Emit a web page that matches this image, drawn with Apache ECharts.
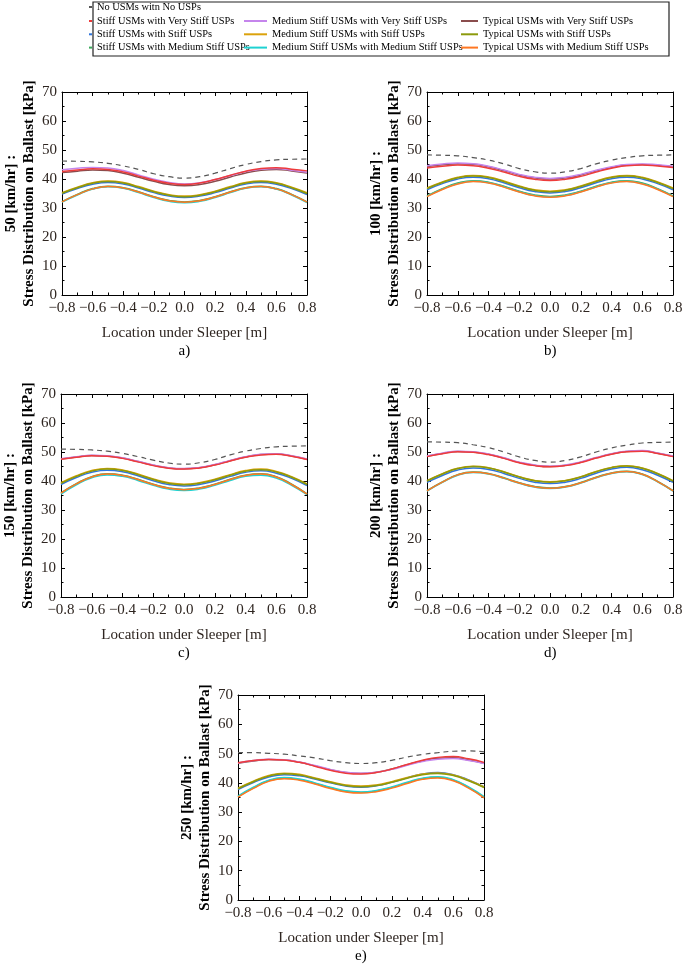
<!DOCTYPE html>
<html>
<head>
<meta charset="utf-8">
<script src="https://cdn.jsdelivr.net/npm/echarts/dist/echarts.min.js"></script>
<style>
html,body{margin:0;padding:0;background:#fff;}
#chart{width:685px;height:966px;}
</style>
</head>
<body>
<div id="chart"></div>
<script>
// Location under sleeper [m]
const X = [-0.8,-0.7,-0.6,-0.5,-0.4,-0.3,-0.2,-0.1,0.0,0.1,0.2,0.3,0.4,0.5,0.6,0.7,0.8];

const SERIES_NAMES = [
  'No USMs witn No USPs',
  'Stiff USMs with Very Stiff USPs',
  'Stiff USMs with Stiff USPs',
  'Stiff USMs with Medium Stiff USPs',
  'Medium Stiff USMs with Very Stiff USPs',
  'Medium Stiff USMs with Stiff USPs',
  'Medium Stiff USMs with Medium Stiff USPs',
  'Typical USMs with Very Stiff USPs',
  'Typical USMs with Stiff USPs',
  'Typical USMs with Medium Stiff USPs'
];
const SPEEDS = ['50','100','150','200','250'];
const PANELS = ['a)','b)','c)','d)','e)'];

// 50 km/hr
const v50_none    = [46.2,46.1,45.9,45.4,44.5,43.3,41.8,40.8,40.3,40.8,42.0,43.6,45.0,46.0,46.6,46.8,46.9];
const v50_stiffVS = [42.6,43.1,43.5,43.3,42.4,41.0,39.6,38.5,38.1,38.6,39.8,41.3,42.7,43.6,43.9,43.4,42.8];
const v50_stiffS  = [34.8,36.7,38.2,38.8,38.3,36.9,35.3,34.1,33.6,34.1,35.3,36.9,38.3,38.8,38.2,36.7,34.6];
const v50_stiffMS = [32.2,34.7,36.7,37.5,37.0,35.6,33.9,32.6,32.1,32.6,33.9,35.6,37.0,37.5,36.7,34.7,32.1];
const v50_medVS   = [43.2,43.7,44.0,43.8,42.9,41.4,39.9,38.8,38.3,38.7,39.8,41.2,42.6,43.4,43.6,43.0,42.3];
const v50_medS    = [35.3,37.2,38.7,39.3,38.8,37.4,35.8,34.6,34.1,34.6,35.8,37.4,38.8,39.3,38.7,37.2,35.3];
const v50_medMS   = [32.0,34.5,36.5,37.3,36.8,35.3,33.6,32.3,31.8,32.3,33.6,35.3,36.8,37.3,36.5,34.5,31.9];
const v50_typVS   = [42.2,42.7,43.1,42.9,42.0,40.6,39.2,38.1,37.7,38.1,39.2,40.7,42.1,43.0,43.3,42.8,42.1];
const v50_typS    = [35.1,37.0,38.5,39.1,38.6,37.2,35.6,34.4,33.9,34.4,35.6,37.2,38.6,39.1,38.5,37.0,35.0];
const v50_typMS   = [32.1,34.6,36.6,37.4,36.9,35.5,33.8,32.5,32.0,32.5,33.8,35.5,36.9,37.4,36.6,34.6,32.0];

// 100 km/hr
const v100_none    = [48.3,48.2,48.0,47.4,46.5,45.2,43.6,42.5,42.0,42.5,43.6,45.2,46.5,47.4,48.0,48.2,48.3];
const v100_stiffVS = [43.8,44.4,44.8,44.6,43.7,42.4,40.9,39.9,39.5,39.9,40.9,42.4,43.7,44.6,44.8,44.5,44.0];
const v100_stiffS  = [36.3,38.4,40.0,40.6,40.1,38.7,37.0,35.7,35.2,35.7,37.0,38.7,40.1,40.6,40.0,38.4,36.3];
const v100_stiffMS = [34.2,36.7,38.6,39.4,38.9,37.5,35.8,34.5,34.0,34.5,35.8,37.5,38.9,39.4,38.6,36.7,34.2];
const v100_medVS   = [44.6,45.2,45.5,45.3,44.4,43.1,41.6,40.6,40.2,40.6,41.6,43.0,44.2,45.0,45.2,44.9,44.4];
const v100_medS    = [36.9,39.0,40.6,41.2,40.7,39.3,37.6,36.3,35.8,36.3,37.6,39.3,40.7,41.2,40.6,39.0,36.9];
const v100_medMS   = [34.0,36.5,38.4,39.2,38.7,37.3,35.6,34.3,33.8,34.3,35.6,37.3,38.7,39.2,38.4,36.5,34.0];
const v100_typVS   = [44.3,44.9,45.3,45.1,44.2,42.9,41.4,40.4,40.0,40.4,41.4,42.8,44.0,44.8,45.0,44.7,44.2];
const v100_typS    = [36.7,38.8,40.4,41.0,40.5,39.1,37.4,36.1,35.6,36.1,37.4,39.1,40.5,41.0,40.4,38.8,36.7];
const v100_typMS   = [33.9,36.4,38.3,39.1,38.6,37.2,35.5,34.2,33.7,34.2,35.5,37.2,38.6,39.1,38.3,36.4,33.9];

// 150 km/hr
const v150_none    = [51.0,50.9,50.7,50.3,49.5,48.4,47.2,46.2,45.8,46.3,47.4,49.0,50.3,51.2,51.8,52.0,52.1];
const v150_stiffVS = [47.5,48.2,48.7,48.5,47.8,46.6,45.3,44.4,44.1,44.5,45.5,46.9,48.2,49.0,49.2,48.5,47.4];
const v150_stiffS  = [38.8,41.2,43.0,43.7,43.2,41.8,40.1,38.8,38.3,38.8,40.0,41.6,43.0,43.5,42.7,40.9,38.4];
const v150_stiffMS = [35.9,39.1,41.5,42.5,42.0,40.6,38.9,37.6,37.1,37.6,38.9,40.6,42.0,42.5,41.5,38.9,35.6];
const v150_medVS   = [47.7,48.4,48.9,48.7,48.0,46.8,45.5,44.6,44.3,44.7,45.7,47.1,48.4,49.2,49.4,48.7,47.6];
const v150_medS    = [39.4,41.8,43.6,44.3,43.8,42.4,40.7,39.4,38.9,39.4,40.6,42.2,43.6,44.1,43.3,41.5,39.0];
const v150_medMS   = [35.5,38.7,41.1,42.1,41.6,40.2,38.5,37.2,36.7,37.2,38.5,40.2,41.6,42.0,41.0,38.5,35.3];
const v150_typVS   = [47.6,48.3,48.8,48.6,47.9,46.7,45.4,44.5,44.2,44.6,45.6,47.0,48.3,49.1,49.3,48.6,47.5];
const v150_typS    = [39.2,41.6,43.4,44.1,43.6,42.2,40.5,39.2,38.7,39.2,40.4,42.0,43.4,43.9,43.1,41.3,38.8];
const v150_typMS   = [35.8,39.0,41.4,42.4,41.9,40.5,38.8,37.5,37.0,37.5,38.8,40.5,41.9,42.4,41.4,38.8,35.5];

// 200 km/hr
const v200_none    = [53.5,53.4,53.2,52.5,51.5,50.0,48.3,47.1,46.5,47.1,48.3,50.0,51.4,52.4,53.1,53.3,53.4];
const v200_stiffVS = [48.4,49.4,50.1,49.9,49.1,47.8,46.3,45.3,44.9,45.3,46.4,47.9,49.2,50.1,50.3,49.5,48.4];
const v200_stiffS  = [39.5,41.9,43.8,44.5,44.0,42.6,40.9,39.6,39.1,39.6,40.9,42.7,44.1,44.7,43.9,42.0,39.5];
const v200_stiffMS = [36.7,39.7,42.2,43.1,42.6,41.1,39.4,38.1,37.6,38.1,39.5,41.3,42.8,43.4,42.4,39.9,36.7];
const v200_medVS   = [48.6,49.6,50.3,50.1,49.3,48.0,46.5,45.5,45.1,45.5,46.6,48.1,49.4,50.3,50.5,49.7,48.6];
const v200_medS    = [40.1,42.5,44.4,45.1,44.6,43.2,41.5,40.2,39.7,40.2,41.5,43.3,44.7,45.3,44.5,42.6,40.1];
const v200_medMS   = [36.5,39.5,42.0,42.9,42.4,40.9,39.2,37.9,37.4,37.9,39.3,41.1,42.6,43.2,42.2,39.7,36.5];
const v200_typVS   = [48.5,49.5,50.2,50.0,49.2,47.9,46.4,45.4,45.0,45.4,46.5,48.0,49.3,50.2,50.4,49.6,48.5];
const v200_typS    = [40.0,42.4,44.3,45.0,44.5,43.1,41.4,40.1,39.6,40.1,41.4,43.2,44.6,45.2,44.4,42.5,40.0];
const v200_typMS   = [36.6,39.6,42.1,43.0,42.5,41.0,39.3,38.0,37.5,38.0,39.4,41.2,42.7,43.3,42.3,39.8,36.6];

// 250 km/hr
const v250_none    = [50.3,50.3,50.1,49.8,49.2,48.5,47.6,46.9,46.6,46.9,47.7,48.8,49.7,50.3,50.8,50.9,50.6];
const v250_stiffVS = [46.9,47.6,48.0,47.8,47.0,45.7,44.3,43.3,43.0,43.5,44.7,46.3,47.7,48.7,49.0,48.2,47.0];
const v250_stiffS  = [37.7,40.1,42.0,42.8,42.4,41.3,40.0,38.9,38.5,39.0,40.2,41.7,43.0,43.5,42.8,41.0,38.6];
const v250_stiffMS = [35.3,38.3,40.7,41.6,41.1,39.8,38.3,37.1,36.7,37.2,38.4,40.0,41.4,41.9,40.9,38.4,35.1];
const v250_medVS   = [46.8,47.6,48.1,47.9,47.1,45.9,44.6,43.6,43.3,43.6,44.6,46.0,47.3,48.1,48.3,47.6,46.6];
const v250_medS    = [38.2,40.6,42.5,43.3,42.9,41.7,40.4,39.3,38.9,39.3,40.4,41.8,43.0,43.4,42.7,40.9,38.6];
const v250_medMS   = [35.5,38.5,40.9,41.8,41.3,40.0,38.5,37.3,36.9,37.4,38.6,40.2,41.6,42.1,41.1,38.6,35.3];
const v250_typVS   = [46.7,47.5,48.0,47.8,47.0,45.8,44.5,43.5,43.2,43.6,44.7,46.2,47.5,48.4,48.6,47.8,46.7];
const v250_typS    = [38.0,40.4,42.3,43.1,42.7,41.5,40.2,39.1,38.7,39.1,40.2,41.6,42.8,43.2,42.5,40.7,38.4];
const v250_typMS   = [35.1,38.1,40.5,41.4,40.9,39.6,38.1,36.9,36.5,37.0,38.2,39.8,41.2,41.7,40.7,38.2,34.9];

const DATA_BY_SPEED = [
  [v50_none,v50_stiffVS,v50_stiffS,v50_stiffMS,v50_medVS,v50_medS,v50_medMS,v50_typVS,v50_typS,v50_typMS],
  [v100_none,v100_stiffVS,v100_stiffS,v100_stiffMS,v100_medVS,v100_medS,v100_medMS,v100_typVS,v100_typS,v100_typMS],
  [v150_none,v150_stiffVS,v150_stiffS,v150_stiffMS,v150_medVS,v150_medS,v150_medMS,v150_typVS,v150_typS,v150_typMS],
  [v200_none,v200_stiffVS,v200_stiffS,v200_stiffMS,v200_medVS,v200_medS,v200_medMS,v200_typVS,v200_typS,v200_typMS],
  [v250_none,v250_stiffVS,v250_stiffS,v250_stiffMS,v250_medVS,v250_medS,v250_medMS,v250_typVS,v250_typS,v250_typMS]
];

// ---- styling / layout ----
const COLORS = ['#555555','#ee3b3b','#2f74dc','#3aaa5a','#c585ec','#dba20c','#1fd2d2','#8a4d4d','#8c9a0c','#ff7722'];
// draw order inside each panel (last drawn is on top)
const DRAW_ORDER = [0,2,5,8,3,6,9,7,4,1];
const FONT = "'Liberation Serif','Times New Roman',serif";
const TXT = '#2e2520';
const GRIDS = [
  {left:62,  top:92,  width:245, height:203},
  {left:427, top:92,  width:246, height:203},
  {left:61,  top:394, width:246, height:203},
  {left:427, top:394, width:246, height:203},
  {left:238, top:695, width:246, height:205}
];

const fmtX = v => Math.abs(v) < 1e-9 ? '0.0' : (v < 0 ? '\u2212' : '') + Math.abs(v).toFixed(1);

const tickStyle = {
  axisLine:{show:true, onZero:false, lineStyle:{color:'#000', width:1}},
  axisTick:{show:true, inside:true, length:4, lineStyle:{color:'#000'}},
  minorTick:{show:true, splitNumber:2, length:2.5, lineStyle:{color:'#000'}},
  splitLine:{show:false}, minorSplitLine:{show:false}
};

const grid = [], xAxis = [], yAxis = [], series = [], graphics = [];
GRIDS.forEach((g, i) => {
  grid.push(Object.assign({containLabel:false, outerBoundsMode:'none'}, g));
  xAxis.push(Object.assign({
    gridIndex:i, type:'value', min:-0.8, max:0.8, interval:0.2, position:'bottom',
    axisLabel:{show:true, fontFamily:FONT, fontSize:15, color:TXT, margin:6, formatter:fmtX},
    name:'Location under Sleeper [m]', nameLocation:'middle', nameGap:31,
    nameTextStyle:{fontFamily:FONT, fontSize:15, color:TXT}
  }, tickStyle));
  yAxis.push(Object.assign({
    gridIndex:i, type:'value', min:0, max:70, interval:10, position:'left',
    axisLabel:{show:true, fontFamily:FONT, fontSize:15, color:TXT, margin:5},
    name: SPEEDS[i] + ' [km/hr] :\nStress Distribution on Ballast [kPa]',
    nameLocation:'middle', nameRotate:90, nameGap:23,
    nameTextStyle:{fontFamily:FONT, fontSize:15, fontWeight:'bold', color:'#000', lineHeight:18}
  }, tickStyle));
  graphics.push({
    type:'text', left: g.left + g.width/2 - 6, top: g.top + g.height + 49,
    style:{text:PANELS[i], font:'15px ' + FONT, fill:'#000'}
  });
});
// mirrored top / right axes (ticks only)
GRIDS.forEach((g, i) => {
  xAxis.push(Object.assign({
    gridIndex:i, type:'value', min:-0.8, max:0.8, interval:0.2, position:'top',
    axisLabel:{show:false}
  }, tickStyle));
  yAxis.push(Object.assign({
    gridIndex:i, type:'value', min:0, max:70, interval:10, position:'right',
    axisLabel:{show:false}
  }, tickStyle));
});

DATA_BY_SPEED.forEach((arrs, gi) => {
  DRAW_ORDER.forEach(si => {
    const arr = arrs[si];
    const dashed = si === 0;
    series.push({
      type:'line', name:SERIES_NAMES[si], xAxisIndex:gi, yAxisIndex:gi,
      data: X.map((x, k) => [x, arr[k]]),
      smooth:true, symbol:'none', showSymbol:false,
      color: COLORS[si],
      itemStyle:{color:COLORS[si]},
      lineStyle:{color:COLORS[si], width: dashed ? 1.2 : 1.5, type: dashed ? [5,4] : 'solid'},
      silent:true, animation:false
    });
  });
});

// legend box
graphics.push({
  type:'rect', shape:{x:93, y:2, width:576, height:54},
  style:{fill:'#fff', stroke:'#222', lineWidth:1.2}, z:-10
});

const legText = {fontFamily:FONT, fontSize:10.4, color:'#000', lineHeight:12};
const legCommon = {orient:'vertical', itemGap:1.3, itemHeight:2, icon:'rect', textStyle:legText, padding:0, selectedMode:false};
const legend = [
  Object.assign({}, legCommon, {left:89, top:1, itemWidth:3, data:[SERIES_NAMES[0]]}),
  Object.assign({}, legCommon, {left:89, top:15, itemWidth:3, data:[SERIES_NAMES[1],SERIES_NAMES[2],SERIES_NAMES[3]]}),
  Object.assign({}, legCommon, {left:244, top:15, itemWidth:23, data:[SERIES_NAMES[4],SERIES_NAMES[5],SERIES_NAMES[6]]}),
  Object.assign({}, legCommon, {left:461, top:15, itemWidth:17, data:[SERIES_NAMES[7],SERIES_NAMES[8],SERIES_NAMES[9]]})
];

const chart = echarts.init(document.getElementById('chart'), null, {renderer:'canvas'});
chart.setOption({
  backgroundColor:'#ffffff',
  animation:false,
  grid, xAxis, yAxis, series, legend,
  graphic: graphics
});
</script>
</body>
</html>
